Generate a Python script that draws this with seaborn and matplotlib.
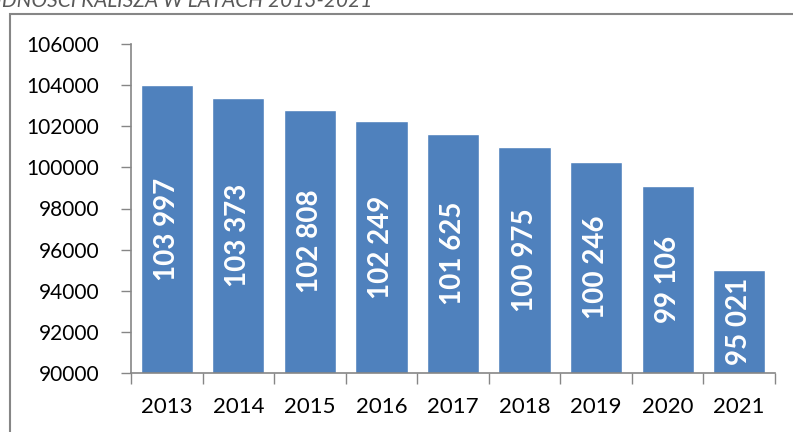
import matplotlib
matplotlib.use("Agg")
import matplotlib.pyplot as plt
import matplotlib.patches as patches
import seaborn as sns
import pandas as pd

# dane: liczba ludności Kalisza
years = ["2013", "2014", "2015", "2016", "2017", "2018", "2019", "2020", "2021"]
population = [103997, 103373, 102808, 102249, 101625, 100975, 100246, 99106, 95021]
y_ticks = [90000, 92000, 94000, 96000, 98000, 100000, 102000, 104000, 106000]
title = "LICZBA LUDNOŚCI KALISZA W LATACH 2013-2021"

df = pd.DataFrame({"rok": years, "ludnosc": population})

sns.set_theme(style="white")
plt.rcParams["font.family"] = ["Lato", "DejaVu Sans"]

grey = "#868686"
fig = plt.figure(figsize=(7.93, 4.32), dpi=100)
ax = fig.add_axes([131 / 793, 1 - 373 / 432, (775 - 131) / 793, (373 - 44) / 432])

# ramka wykresu (ucięta z prawej i na dole)
fig.patches.append(patches.Rectangle((10 / 793, -0.05), 1.1, 1 - 13.5 / 432 + 0.05,
                                     transform=fig.transFigure, fill=False,
                                     edgecolor=grey, linewidth=1.5, zorder=0))

fig.text(372 / 793, 1 - 7 / 432, title, ha="right", va="baseline",
         fontsize=15, style="italic", color="#595959")

sns.barplot(data=df, x="rok", y="ludnosc", color="#4F81BD", saturation=1,
            width=0.73, ax=ax)

for i, v in enumerate(population):
    ax.text(i, (y_ticks[0] + v) / 2, f"{v:,}".replace(",", " "), rotation=90,
            ha="center", va="center", color="white", fontweight="bold", fontsize=20)

ax.set_ylim(y_ticks[0], y_ticks[-1])
ax.set_xlim(-0.5, len(years) - 0.5)
ax.set_yticks(y_ticks)
ax.set_yticklabels([str(t) for t in y_ticks])
ax.set_xlabel("")
ax.set_ylabel("")

# znaczniki osi X na granicach kategorii
ax.set_xticks([i - 0.5 for i in range(len(years) + 1)], minor=True)
ax.tick_params(axis="x", which="major", length=0, pad=17, labelsize=16, labelcolor="black")
ax.tick_params(axis="x", which="minor", length=8, width=1, color=grey, direction="out", bottom=True)
ax.tick_params(axis="y", length=7, width=1, color=grey, direction="out", left=True,
               pad=16, labelsize=15, labelcolor="black")

for side in ["top", "right"]:
    ax.spines[side].set_visible(False)
for side in ["left", "bottom"]:
    ax.spines[side].set_color(grey)
    ax.spines[side].set_linewidth(1.2)
ax.set_facecolor("none")

fig.savefig("out.png", dpi=100)
